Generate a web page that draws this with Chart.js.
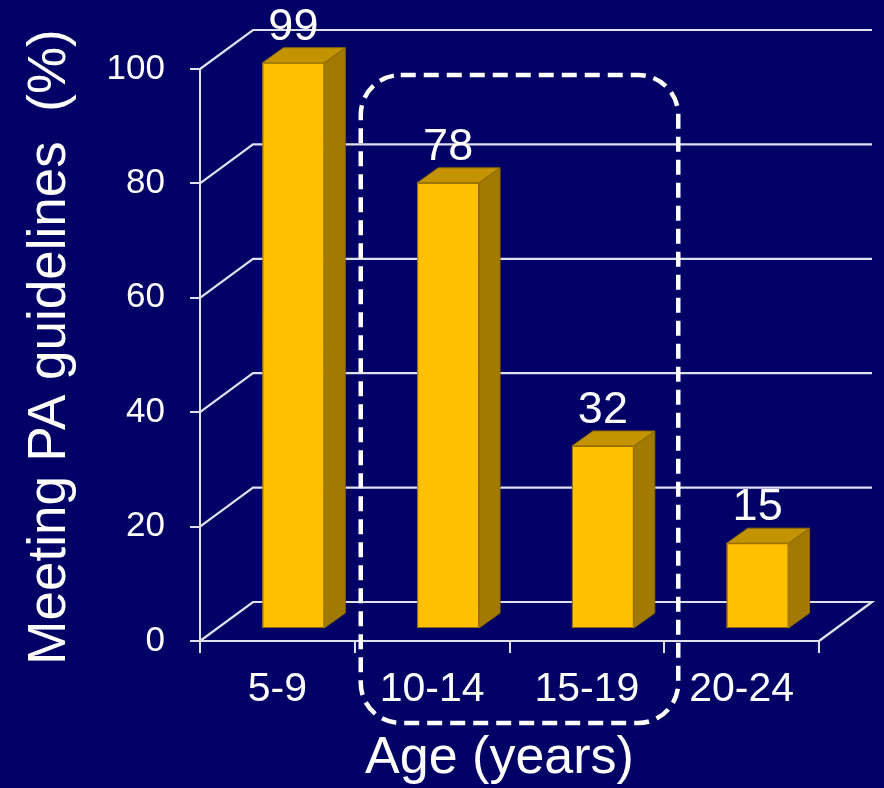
<!DOCTYPE html>
<html>
<head>
<meta charset="utf-8">
<script src="https://cdn.jsdelivr.net/npm/chart.js@4.4.1/dist/chart.umd.min.js"></script>
<style>
  html, body { margin: 0; padding: 0; background: #000066; }
  #wrap { width: 884px; height: 788px; }
</style>
</head>
<body>
<div id="wrap"><canvas id="c" width="884" height="788"></canvas></div>
<script>
// ---- data ----
const categories = ['5-9', '10-14', '15-19', '20-24'];
const values = [99, 78, 32, 15];
const yTicks = [0, 20, 40, 60, 80, 100];
const yTitle = 'Meeting PA guidelines  (%)';
const xTitle = 'Age (years)';

// ---- style ----
const FONT = "'Liberation Sans', Arial, sans-serif";
const BG = '#000066';
const GRID = '#e0e0ee';
const WALL_DX = 53, WALL_DY = -39;          // depth of the back wall
const BAR_OX = 16, BAR_OY = -12;            // bar front plane offset
const BAR_DX = 21, BAR_DY = -15;            // bar depth
const C_FRONT = '#FFC000', C_TOP = '#C49400', C_SIDE = '#A27A00', C_EDGE = '#8A6800';

const threeD = {
  id: 'threeD',
  beforeDraw(chart) {
    const ctx = chart.ctx;
    ctx.save();
    ctx.fillStyle = BG;
    ctx.fillRect(0, 0, chart.width, chart.height);
    ctx.restore();
  },
  beforeDatasetsDraw(chart) {
    const { ctx, chartArea: a, scales: { y } } = chart;
    ctx.save();
    ctx.strokeStyle = GRID;
    ctx.lineWidth = 2.2;
    yTicks.forEach(v => {
      const py = y.getPixelForValue(v);
      ctx.beginPath();
      ctx.moveTo(a.left, py);
      ctx.lineTo(a.left + WALL_DX, py + WALL_DY);
      ctx.lineTo(a.right + WALL_DX, py + WALL_DY);
      if (v === 0) ctx.lineTo(a.right, py);
      ctx.stroke();
    });
    ctx.restore();
  },
  afterDatasetsDraw(chart) {
    const { ctx, chartArea: a, scales: { x, y } } = chart;
    const meta = chart.getDatasetMeta(0);
    ctx.save();
    ctx.lineWidth = 1;
    ctx.strokeStyle = C_EDGE;
    ctx.lineJoin = 'round';
    meta.data.forEach((el, i) => {
      const cx = el.x + BAR_OX;
      const top = el.y + BAR_OY;
      const bot = el.base + BAR_OY;
      const hw = el.width / 2;
      const L = cx - hw, R = cx + hw;
      // side
      ctx.fillStyle = C_SIDE;
      ctx.beginPath();
      ctx.moveTo(R, top); ctx.lineTo(R + BAR_DX, top + BAR_DY);
      ctx.lineTo(R + BAR_DX, bot + BAR_DY); ctx.lineTo(R, bot); ctx.closePath();
      ctx.fill(); ctx.stroke();
      // top
      ctx.fillStyle = C_TOP;
      ctx.beginPath();
      ctx.moveTo(L, top); ctx.lineTo(L + BAR_DX, top + BAR_DY);
      ctx.lineTo(R + BAR_DX, top + BAR_DY); ctx.lineTo(R, top); ctx.closePath();
      ctx.fill(); ctx.stroke();
      // front
      ctx.fillStyle = C_FRONT;
      ctx.fillRect(L, top, R - L, bot - top);
      ctx.strokeRect(L + 0.5, top + 0.5, R - L - 1, bot - top - 1);
      // value label
      ctx.fillStyle = '#ffffff';
      ctx.font = '45px ' + FONT;
      ctx.textAlign = 'center';
      ctx.textBaseline = 'alphabetic';
      ctx.fillText(String(values[i]), cx, top + BAR_DY - 8);
    });
    ctx.restore();

    // highlight box around 10-14 and 15-19
    const catW = (a.right - a.left) / categories.length;
    const bx0 = a.left + catW * 1 + 6;
    const bx1 = a.left + catW * 3 + 14;
    const by0 = y.getPixelForValue(100) + 6;
    const by1 = a.bottom + 82;
    ctx.save();
    ctx.strokeStyle = '#ffffff';
    ctx.lineWidth = 4.5;
    ctx.setLineDash([15, 8]);
    ctx.beginPath();
    ctx.roundRect(bx0, by0, bx1 - bx0, by1 - by0, 40);
    ctx.stroke();
    ctx.restore();

    // axis titles
    ctx.save();
    ctx.fillStyle = '#ffffff';
    ctx.textAlign = 'center';
    ctx.textBaseline = 'alphabetic';
    ctx.font = '52px ' + FONT;
    ctx.fillText(xTitle, (a.left + a.right) / 2 - 10, a.bottom + 132);
    ctx.translate(65, (a.top + a.bottom) / 2 - 8);
    ctx.rotate(-Math.PI / 2);
    ctx.font = '53px ' + FONT;
    ctx.fillText(yTitle, 0, 0);
    ctx.restore();
  }
};

new Chart(document.getElementById('c'), {
  type: 'bar',
  data: {
    labels: categories,
    datasets: [{
      data: values,
      backgroundColor: 'rgba(0,0,0,0)',
      borderWidth: 0,
      barPercentage: 0.4,
      categoryPercentage: 1.0
    }]
  },
  options: {
    responsive: false,
    animation: false,
    layout: { padding: { left: 0, top: 69, right: 65, bottom: 0 } },
    plugins: { legend: { display: false }, tooltip: { enabled: false } },
    scales: {
      x: {
        type: 'category',
        grid: { display: true, drawOnChartArea: false, drawTicks: true, tickLength: 12, color: GRID, lineWidth: 2, offset: true },
        border: { display: true, color: GRID, width: 2 },
        ticks: { color: '#ffffff', font: { family: FONT, size: 41 }, padding: 12, maxRotation: 0 },
        afterFit(s) { s.height = 147; }
      },
      y: {
        min: 0, max: 100,
        afterBuildTicks(s) { s.ticks = yTicks.map(v => ({ value: v })); },
        grid: { display: true, drawOnChartArea: false, drawTicks: true, tickLength: 10, color: GRID, lineWidth: 2 },
        border: { display: true, color: GRID, width: 2 },
        ticks: { color: '#ffffff', font: { family: FONT, size: 35 }, padding: 25 },
        afterFit(s) { s.width = 200; }
      }
    }
  },
  plugins: [threeD]
});
</script>
</body>
</html>
